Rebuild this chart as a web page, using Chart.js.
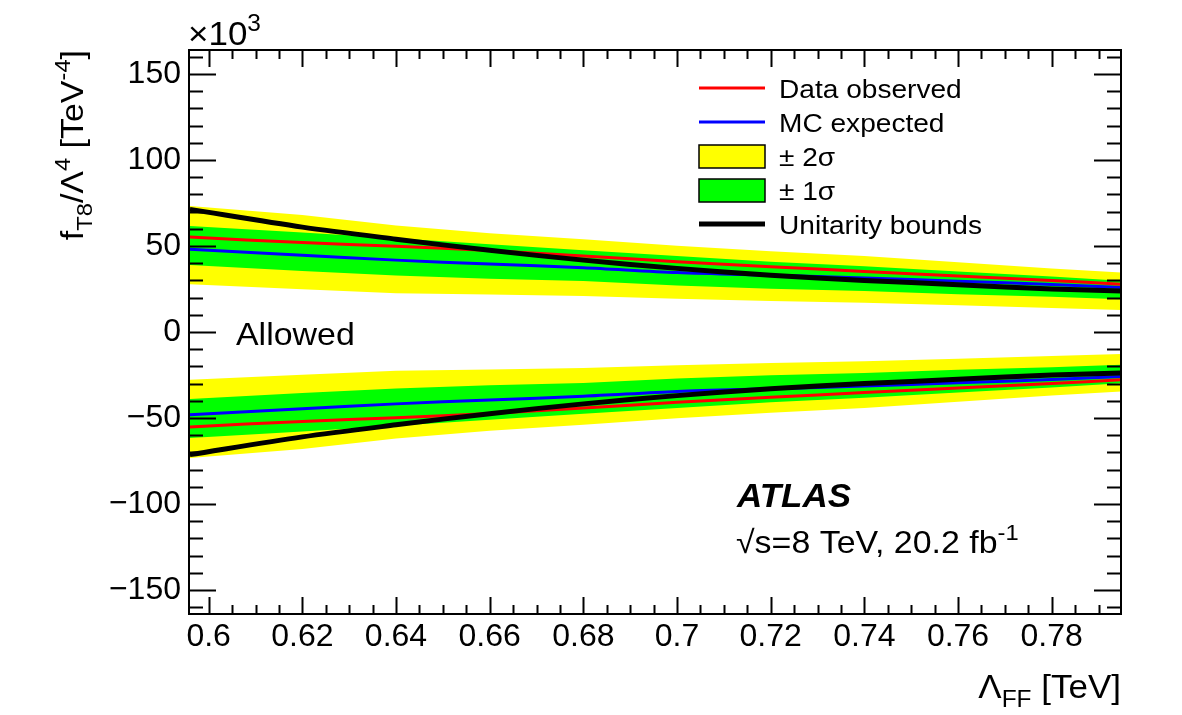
<!DOCTYPE html>
<html>
<head>
<meta charset="utf-8">
<script src="https://cdn.jsdelivr.net/npm/chart.js@4.4.1/dist/chart.umd.min.js"></script>
<style>
  html, body { margin: 0; padding: 0; background: #fff; }
</style>
</head>
<body>
<canvas id="myChart" width="1182" height="715"></canvas>
<script>
// Lambda_FF [TeV] sample points
const lambdaFF = [0.596, 0.62, 0.64, 0.66, 0.68, 0.70, 0.72, 0.74, 0.76, 0.78, 0.795];
// upper limits on f_T8/Lambda^4, units of 10^3 TeV^-4 (lower limits are the mirror image)
const observed = [55.2, 52.0, 49.8, 47.4, 44.2, 40.9, 38.0, 35.2, 32.6, 30.0, 27.7];
const expected = [48.1, 44.6, 41.8, 39.5, 37.4, 34.6, 33.0, 31.4, 29.5, 27.6, 25.8];
const sigma1Hi = [61.6, 57.8, 54.5, 51.0, 47.5, 44.2, 40.8, 38.2, 35.2, 32.3, 29.7];
const sigma1Lo = [39.0, 35.5, 32.8, 31.0, 29.7, 27.0, 25.2, 23.8, 22.0, 20.5, 19.0];
const sigma2Hi = [73.3, 68.0, 62.0, 57.5, 54.0, 50.2, 47.0, 44.2, 40.5, 37.0, 34.5];
const sigma2Lo = [27.7, 24.8, 22.6, 21.8, 21.0, 19.4, 18.0, 17.0, 15.5, 14.0, 12.8];
const unitarity = [71.3, 61.0, 54.0, 47.5, 41.8, 37.0, 33.0, 30.0, 27.5, 25.0, 23.8];

const xTicks = [0.6, 0.62, 0.64, 0.66, 0.68, 0.7, 0.72, 0.74, 0.76, 0.78];
const yTicks = [-150, -100, -50, 0, 50, 100, 150];
const xRange = [0.5958, 0.7948];
const yRange = [-164, 164];

const legendItems = [
  { label: "Data observed", kind: "line", color: "#ff0000", width: 3 },
  { label: "MC expected", kind: "line", color: "#0000ff", width: 3 },
  { label: "\u00b1 2\u03c3", kind: "box", color: "#ffff00" },
  { label: "\u00b1 1\u03c3", kind: "box", color: "#00ff00" },
  { label: "Unitarity bounds", kind: "line", color: "#000000", width: 5 },
];

const FONT = "'Liberation Sans', Arial, Helvetica, sans-serif";
const neg = (a) => a.map((v) => -v);
const pts = (a) => a.map((y, i) => ({ x: lambdaFF[i], y: y }));

function band(data, color, fillIt, order) {
  return {
    data: pts(data),
    borderWidth: 0,
    borderColor: "rgba(0,0,0,0)",
    backgroundColor: color,
    fill: fillIt ? "+1" : false,
    pointRadius: 0,
    tension: 0,
    order: order,
  };
}
function curve(data, color, width, order) {
  return {
    data: pts(data),
    borderColor: color,
    borderWidth: width,
    fill: false,
    pointRadius: 0,
    tension: 0.3,
    order: order,
  };
}

// text with super/subscripts, slightly widened like the original ROOT output
function rich(ctx, parts, x, y, size, align, style) {
  const sx = 1.06;
  let total = 0;
  parts.forEach((p) => {
    const s = p.sub || p.sup ? size * 0.7 : size;
    ctx.font = (style || "") + " " + s + "px " + FONT;
    p._w = ctx.measureText(p.t).width;
    p._s = s;
    total += p._w;
  });
  ctx.save();
  ctx.translate(align === "right" ? x - total * sx : x, y);
  ctx.scale(sx, 1);
  ctx.textAlign = "left";
  ctx.textBaseline = "alphabetic";
  let cx = 0;
  parts.forEach((p) => {
    ctx.font = (style || "") + " " + p._s + "px " + FONT;
    let dy = 0;
    if (p.sub) dy = size * 0.28;
    if (p.sup) dy = -size * 0.42;
    ctx.fillText(p.t, cx, dy);
    cx += p._w;
  });
  ctx.restore();
}

const rootDecor = {
  id: "rootDecor",
  afterDatasetsDraw(chart) {
    const ctx = chart.ctx;
    const xs = chart.scales.x, ys = chart.scales.y;
    const { left, right, top, bottom } = chart.chartArea;
    ctx.save();
    ctx.strokeStyle = "#000";
    ctx.lineWidth = 2;
    ctx.beginPath();
    // x ticks every 0.005, major every 0.02
    for (let k = Math.ceil(xs.min / 0.005 - 1e-6); k * 0.005 <= xs.max + 1e-9; k++) {
      const px = Math.round(xs.getPixelForValue(k * 0.005)) + 0.5;
      const len = k % 4 === 0 ? 17 : 9;
      ctx.moveTo(px, bottom); ctx.lineTo(px, bottom - len);
      ctx.moveTo(px, top); ctx.lineTo(px, top + len);
    }
    // y ticks every 10, major every 50
    for (let k = Math.ceil(ys.min / 10); k * 10 <= ys.max; k++) {
      const py = Math.round(ys.getPixelForValue(k * 10)) + 0.5;
      const len = k % 5 === 0 ? 27 : 14;
      ctx.moveTo(left, py); ctx.lineTo(left + len, py);
      ctx.moveTo(right, py); ctx.lineTo(right - len, py);
    }
    ctx.stroke();
    ctx.strokeRect(left, top, right - left, bottom - top);
    ctx.restore();
  },
  afterDraw(chart) {
    const ctx = chart.ctx;
    const { left, right, top } = chart.chartArea;
    ctx.save();
    ctx.fillStyle = "#000";

    // x10^3 multiplier
    rich(ctx, [{ t: "\u00d710" }, { t: "3", sup: true }], left - 1, 45, 33);

    // axis titles
    rich(ctx, [{ t: "\u039b" }, { t: "FF", sub: true }, { t: " [TeV]" }], right, 698, 33, "right");
    ctx.save();
    ctx.translate(83, top);
    ctx.rotate(-Math.PI / 2);
    rich(ctx, [
      { t: "f" }, { t: "T8", sub: true }, { t: "/\u039b" }, { t: "4", sup: true },
      { t: " [TeV" }, { t: "-4", sup: true }, { t: "]" },
    ], 0, 0, 32, "right");
    ctx.restore();

    // legend
    const lx = 699, tx = 779;
    legendItems.forEach((it, i) => {
      const cy = 88 + i * 34;
      if (it.kind === "line") {
        ctx.strokeStyle = it.color;
        ctx.lineWidth = it.width;
        ctx.beginPath();
        ctx.moveTo(lx, cy); ctx.lineTo(lx + 66, cy);
        ctx.stroke();
      } else {
        ctx.fillStyle = it.color;
        ctx.fillRect(lx, cy - 11, 66, 23);
        ctx.strokeStyle = "#000";
        ctx.lineWidth = 1.5;
        ctx.strokeRect(lx, cy - 11, 66, 23);
      }
      ctx.fillStyle = "#000";
      rich(ctx, [{ t: it.label }], tx, cy + 10, 26.5);
    });

    // annotations
    rich(ctx, [{ t: "Allowed" }], 236, 345, 32);
    rich(ctx, [{ t: "ATLAS" }], 737, 507, 33, "left", "italic bold");
    rich(ctx, [{ t: "\u221as=8 TeV, 20.2 fb" }, { t: "-1", sup: true }], 736, 553, 32);
    ctx.restore();
  },
};

const ctx = document.getElementById("myChart").getContext("2d");
const myChart = new Chart(ctx, {
  type: "line",
  data: {
    datasets: [
      band(sigma2Hi, "#ffff00", true, 6),
      band(sigma2Lo, "#ffff00", false, 6),
      band(sigma1Hi, "#00ff00", true, 5),
      band(sigma1Lo, "#00ff00", false, 5),
      band(neg(sigma2Lo), "#ffff00", true, 6),
      band(neg(sigma2Hi), "#ffff00", false, 6),
      band(neg(sigma1Lo), "#00ff00", true, 5),
      band(neg(sigma1Hi), "#00ff00", false, 5),
      curve(observed, "#ff0000", 3, 3),
      curve(neg(observed), "#ff0000", 3, 3),
      curve(expected, "#0000ff", 3, 3),
      curve(neg(expected), "#0000ff", 3, 3),
      curve(unitarity, "#000000", 5, 1),
      curve(neg(unitarity), "#000000", 5, 1),
    ],
  },
  options: {
    responsive: false,
    animation: false,
    devicePixelRatio: 1,
    layout: { padding: { left: 0, right: 61, top: 50, bottom: 0 } },
    plugins: {
      legend: { display: false },
      tooltip: { enabled: false },
    },
    scales: {
      x: {
        type: "linear",
        min: xRange[0],
        max: xRange[1],
        grid: { display: false, drawTicks: false },
        border: { display: false },
        ticks: {
          color: "#000",
          font: { family: FONT, size: 32 },
          padding: 4,
          maxRotation: 0,
          autoSkip: false,
          callback: (v) => String(+v.toFixed(2)),
        },
        afterBuildTicks: (s) => { s.ticks = xTicks.map((v) => ({ value: v })); },
        afterFit: (s) => { s.height = 101; },
      },
      y: {
        type: "linear",
        min: yRange[0],
        max: yRange[1],
        grid: { display: false, drawTicks: false },
        border: { display: false },
        ticks: {
          color: "#000",
          font: { family: FONT, size: 32 },
          padding: 8,
          autoSkip: false,
          callback: (v) => (v < 0 ? "\u2212" + Math.abs(v) : String(v)),
        },
        afterBuildTicks: (s) => { s.ticks = yTicks.map((v) => ({ value: v })); },
        afterFit: (s) => { s.width = 189; },
      },
    },
  },
  plugins: [rootDecor],
});
</script>
</body>
</html>
